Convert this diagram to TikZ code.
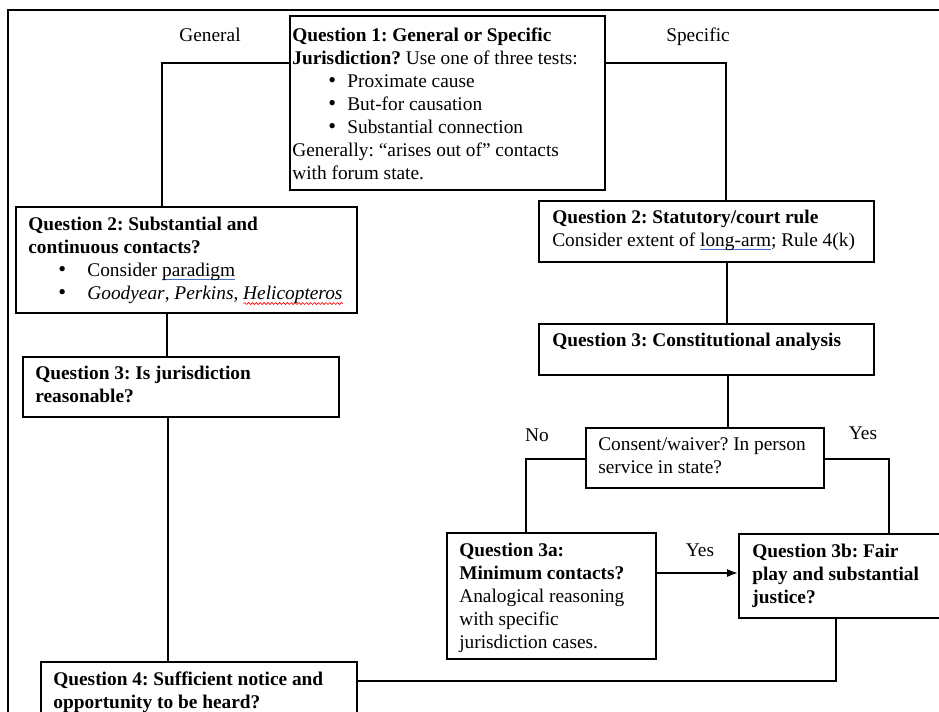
\documentclass[tikz,border=0pt]{standalone}
\usepackage{fontspec}
\setmainfont{Liberation Serif}
\usetikzlibrary{arrows.meta,fit,decorations.pathmorphing}
\definecolor{ulblue}{RGB}{70,110,200}
\newsavebox{\ulbox}
\newcommand{\blueul}[1]{\sbox{\ulbox}{#1}\rlap{\textcolor{ulblue}{\rule[-2.6pt]{\wd\ulbox}{0.6pt}}}\usebox{\ulbox}}
\newcommand{\redwave}[1]{\sbox{\ulbox}{#1}\rlap{\raisebox{-3.6pt}{\tikz\draw[red,line width=0.4pt,decorate,decoration={snake,amplitude=0.6pt,segment length=2.4pt}] (0pt,0pt) -- (\wd\ulbox,0pt);}}\usebox{\ulbox}}
\newcommand{\bul}[2]{\hspace*{#1}\makebox[#2][l]{\raisebox{-0.03em}{\scalebox{1.15}{•}}}}
\frenchspacing
\begin{document}
\begin{tikzpicture}[x=0.62pt,y=-0.62pt,
  box/.style={draw=black, line width=0.7pt, inner sep=0pt},
  conn/.style={draw=black, line width=1.5pt},
  txt/.style={anchor=base west, inner sep=0pt, align=left, font=\fontsize{12}{14.26}\selectfont\frenchspacing},
  lbl/.style={anchor=base, inner sep=0pt, font=\fontsize{12}{14.26}\selectfont}]
\useasboundingbox (0,0) rectangle (939,711);
\clip (0,0) rectangle (939,711);
\draw[line width=1.4pt] (8,730) -- (8,10) -- (960,10);
% boxes
\node[box, fit={(290,16)(605,190)}] (q1) {};
\node[box, fit={(16,207)(357,313)}] (q2l) {};
\node[box, fit={(23,357)(339,417)}] (q3l) {};
\node[box, fit={(41,662)(357,725)}] (q4) {};
\node[box, fit={(539,201)(874,262)}] (q2r) {};
\node[box, fit={(539,324)(874,375)}] (q3r) {};
\node[box, fit={(586,428)(824,488)}] (cons) {};
\node[box, fit={(447,533)(656,659)}] (q3a) {};
\node[box, fit={(739,534)(960,618)}] (q3b) {};
% texts (anchored at the baseline of their last line)
\node[txt] (q1t) at (292,179) {\textbf{Question 1: General or Specific}\\
  \textbf{Jurisdiction?} Use one of three tests:\\
  \bul{22.3pt}{11.8pt}Proximate cause\\
  \bul{22.3pt}{11.8pt}But-for causation\\
  \bul{22.3pt}{11.8pt}Substantial connection\\
  Generally: “arises out of” contacts\\
  with forum state.};
\node[txt] (q2lt) at (28,299) {\textbf{Question 2: Substantial and}\\
  \textbf{continuous contacts?}\\
  \bul{18.6pt}{18pt}Consider \blueul{paradigm}\\
  \bul{18.6pt}{18pt}\textit{Goodyear}, \textit{Perkins}, \redwave{\textit{Helicopteros}}};
\node[txt] (q3lt) at (35,402) {\textbf{Question 3: Is jurisdiction}\\ \textbf{reasonable?}};
\node[txt] (q4t) at (53,708) {\textbf{Question 4: Sufficient notice and}\\ \textbf{opportunity to be heard?}};
\node[txt] (q2rt) at (552,246) {\textbf{Question 2: Statutory/court rule}\\ Consider extent of \blueul{long-arm}; Rule 4(k)};
\node[txt] (q3rt) at (552,346) {\textbf{Question 3: Constitutional analysis}};
\node[txt] (const) at (598,473) {Consent/waiver? In person\\ service in state?};
\node[txt] (q3at) at (459,648) {\textbf{Question 3a:}\\ \textbf{Minimum contacts?}\\ Analogical reasoning\\ with specific\\ jurisdiction cases.};
\node[txt] (q3bt) at (752,603) {\textbf{Question 3b: Fair}\\ \textbf{play and substantial}\\ \textbf{justice?}};
% labels
\node[lbl] (lg) at (210,41) {General};
\node[lbl] (ls) at (698,41) {Specific};
\node[lbl] (lno) at (537,441) {No};
\node[lbl] (lyes1) at (863,439) {Yes};
\node[lbl] (lyes2) at (700,556) {Yes};
% connectors
\coordinate (c1) at (162,63);
\draw[conn] (q1.west |- c1) -| (q2l.north -| c1);
\coordinate (c2) at (726,63);
\draw[conn] (q1.east |- c2) -| (q2r.north -| c2);
\coordinate (c3) at (167,0);
\draw[conn] (q2l.south -| c3) -- (q3l.north -| c3);
\coordinate (c4) at (168,0);
\draw[conn] (q3l.south -| c4) -- (q4.north -| c4);
\coordinate (c5) at (727,0);
\draw[conn] (q2r.south -| c5) -- (q3r.north -| c5);
\coordinate (c6) at (728,0);
\draw[conn] (q3r.south -| c6) -- (cons.north -| c6);
\coordinate (c7) at (526,459);
\draw[conn] (cons.west |- c7) -| (q3a.north -| c7);
\coordinate (c8) at (889,459);
\draw[conn] (cons.east |- c8) -| (q3b.north -| c8);
\coordinate (c9) at (0,573);
\draw[conn,-{Latex[length=7pt,width=5pt]}] (q3a.east |- c9) -- (q3b.west |- c9);
\coordinate (c10) at (836,681);
\draw[conn] (q3b.south -| c10) |- (q4.east |- c10);
\end{tikzpicture}
\end{document}
